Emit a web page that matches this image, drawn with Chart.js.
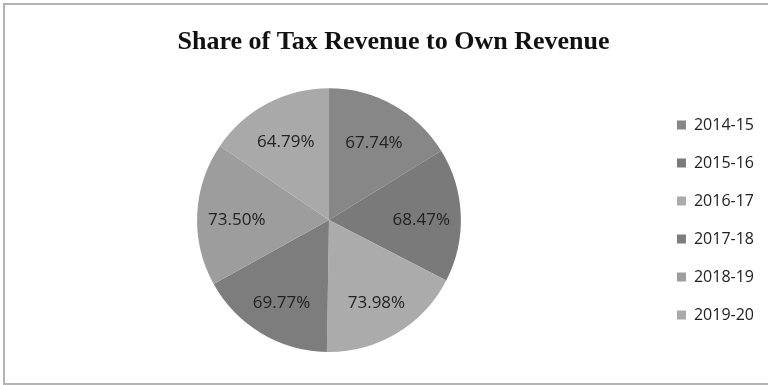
<!DOCTYPE html>
<html>
<head>
<meta charset="utf-8">
<title>Share of Tax Revenue to Own Revenue</title>
<script src="https://cdn.jsdelivr.net/npm/chart.js@4.4.1/dist/chart.umd.min.js"></script>
<style>
  html, body { margin: 0; padding: 0; background: #fff; overflow: hidden; }
  #wrap { position: relative; width: 768px; height: 385px; }
  #frame {
    position: absolute; left: 3px; top: 3px; width: 780px; height: 378px;
    border: 2px solid #b4b4b4; border-right: none; pointer-events: none;
  }
</style>
</head>
<body>
<div id="wrap">
  <canvas id="chartCanvas"></canvas>
  <div id="frame"></div>
</div>
<script>
const years = ['2014-15', '2015-16', '2016-17', '2017-18', '2018-19', '2019-20'];
const shares = [67.74, 68.47, 73.98, 69.77, 73.50, 64.79];
const greys = ['#878787', '#7a7a7a', '#ababab', '#7d7d7d', '#9d9d9d', '#a9a9a9'];

// percentage text inside each slice
const sliceLabels = {
  id: 'sliceLabels',
  afterDatasetsDraw(chart) {
    const ctx = chart.ctx;
    const meta = chart.getDatasetMeta(0);
    ctx.save();
    ctx.font = '17px "Open Sans"';
    ctx.fillStyle = '#222';
    ctx.textAlign = 'center';
    ctx.textBaseline = 'middle';
    meta.data.forEach((arc, i) => {
      const mid = (arc.startAngle + arc.endAngle) / 2;
      const r = arc.outerRadius * 0.7;
      const x = arc.x + Math.cos(mid) * r;
      const y = arc.y + Math.sin(mid) * r + 4;
      ctx.fillText(shares[i].toFixed(2) + '%', x, y);
    });
    ctx.restore();
  }
};

// nudge the title a little to the right of the plot
const titleShift = {
  id: 'titleShift',
  afterLayout(chart) {
    chart.titleBlock.left += 20;
  }
};

const ctx = document.getElementById('chartCanvas').getContext('2d');
new Chart(ctx, {
  type: 'pie',
  data: {
    labels: years,
    datasets: [{
      data: shares,
      backgroundColor: greys,
      borderWidth: 0
    }]
  },
  options: {
    responsive: true,
    maintainAspectRatio: false,
    animation: false,
    layout: {
      padding: { left: 3, right: 4, top: 0, bottom: 33 }
    },
    plugins: {
      title: {
        display: true,
        text: 'Share of Tax Revenue to Own Revenue',
        color: '#111',
        font: { family: '"Liberation Serif", "Times New Roman", serif', size: 26, weight: 'bold' },
        padding: { top: 27, bottom: 30 }
      },
      legend: {
        position: 'right',
        fullSize: false,
        labels: {
          boxWidth: 9,
          boxHeight: 9,
          padding: 22,
          color: '#222',
          font: { family: '"Open Sans"', size: 16 }
        }
      },
      tooltip: { enabled: false }
    }
  },
  plugins: [sliceLabels, titleShift]
});
</script>
</body>
</html>
